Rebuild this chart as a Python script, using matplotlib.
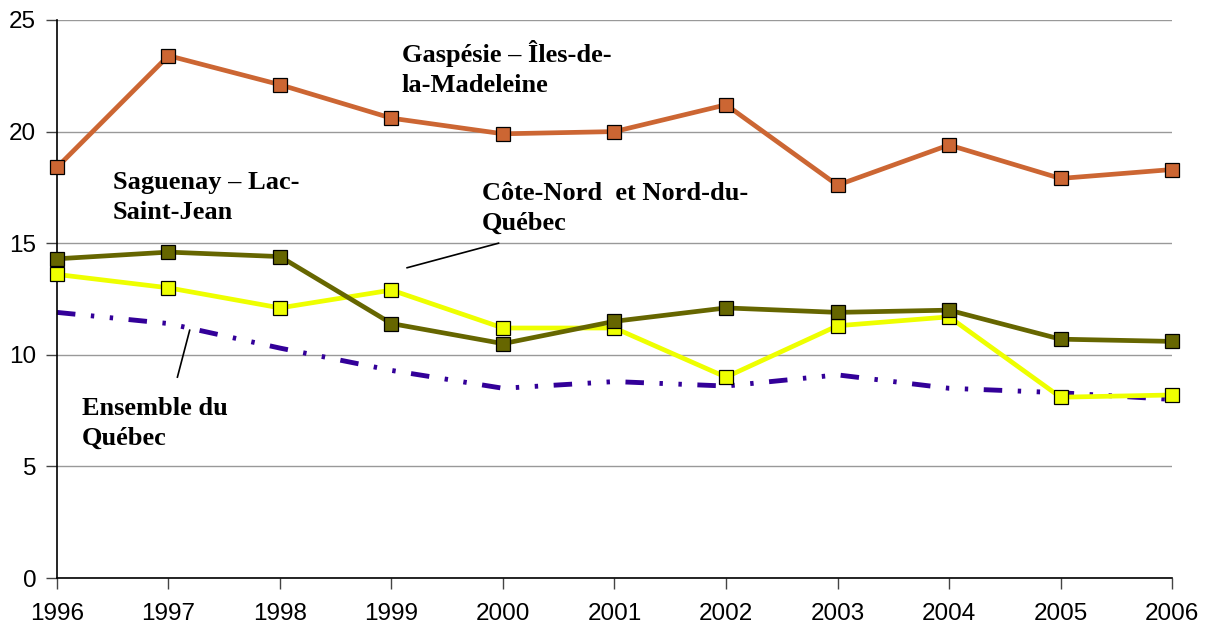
import matplotlib.pyplot as plt

years = list(range(1996, 2007))
gaspesie = [18.4, 23.4, 22.1, 20.6, 19.9, 20.0, 21.2, 17.6, 19.4, 17.9, 18.3]
saguenay = [14.3, 14.6, 14.4, 11.4, 10.5, 11.5, 12.1, 11.9, 12.0, 10.7, 10.6]
cote_nord = [13.6, 13.0, 12.1, 12.9, 11.2, 11.2, 9.0, 11.3, 11.7, 8.1, 8.2]
ensemble = [11.9, 11.4, 10.3, 9.3, 8.5, 8.8, 8.6, 9.1, 8.5, 8.3, 8.0]

serif = ['Liberation Serif', 'DejaVu Serif']
plt.rcParams['font.family'] = ['Liberation Sans', 'DejaVu Sans']

fig = plt.figure(figsize=(12.1, 6.24), dpi=100)
ax = fig.add_axes([0.0471, 0.0737, 0.9215, 0.8943])

mk = dict(marker='s', markersize=10.5, markeredgecolor='black', markeredgewidth=0.9,
          clip_on=False, zorder=3)
ax.plot(years, ensemble, color='#330099', lw=3.5, dashes=(3.8, 3.2, 0.7, 3.2, 0.7, 3.2),
        dash_capstyle='butt', clip_on=False, zorder=2)
ax.plot(years, cote_nord, color='#eeff00', lw=3.4, markerfacecolor='#eeff00', **mk)
ax.plot(years, saguenay, color='#666600', lw=3.4, markerfacecolor='#666600', **mk)
ax.plot(years, gaspesie, color='#cc6633', lw=3.4, markerfacecolor='#cc6633', **mk)

ax.set_xlim(1996, 2006)
ax.set_ylim(0, 25)
ax.set_xticks(years)
ax.set_yticks([0, 5, 10, 15, 20, 25])
ax.yaxis.grid(True, color='#999999', lw=1)
ax.set_axisbelow(True)
for s in ['top', 'right']:
    ax.spines[s].set_visible(False)
for s in ['left', 'bottom']:
    ax.spines[s].set_color('black')
    ax.spines[s].set_linewidth(1.2)
ax.tick_params(axis='both', labelsize=17.5, direction='out', length=8, width=1,
               color='#444444')
ax.tick_params(axis='x', pad=10)
ax.tick_params(axis='y', pad=7)

# va='baseline' pins the last line, so y is the baseline of the second line
tk = dict(fontsize=19, fontweight='bold', family=serif, va='baseline', ha='left',
          linespacing=1.38)
ax.text(1999.09, 21.77, 'Gaspésie – Îles-de-\nla-Madeleine', **tk)
ax.text(1996.50, 16.08, 'Saguenay – Lac-\nSaint-Jean', **tk)
ax.text(1999.81, 15.59, 'Côte-Nord  et Nord-du-\nQuébec', **tk)
ax.text(1996.22, 5.96, 'Ensemble du\nQuébec', **tk)

ax.plot([1999.14, 1999.96], [13.9, 15.0], color='black', lw=1.2)
ax.plot([1997.08, 1997.19], [9.0, 11.1], color='black', lw=1.2)

fig.savefig('out.png', dpi=100)
